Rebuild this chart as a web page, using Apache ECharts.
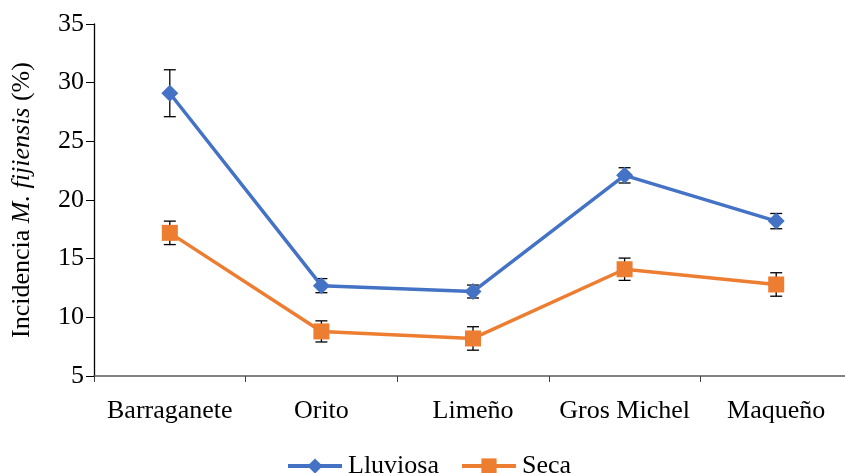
<!DOCTYPE html>
<html>
<head>
<meta charset="utf-8">
<script src="https://cdn.jsdelivr.net/npm/echarts@6/dist/echarts.min.js"></script>
<style>
  html, body { margin: 0; padding: 0; background: #fff; overflow: hidden; }
  #chart { width: 852px; height: 473px; }
</style>
</head>
<body>
<div id="chart"></div>
<script>
// Cultivars and incidence (%) by season, with error half-widths
const categories = ['Barraganete', 'Orito', 'Limeño', 'Gros Michel', 'Maqueño'];
const lluviosa = [29.1, 12.7, 12.2, 22.1, 18.2];
const lluviosaErr = [2.0, 0.6, 0.55, 0.65, 0.65];
const seca = [17.2, 8.8, 8.2, 14.1, 12.8];
const secaErr = [1.0, 0.9, 1.0, 0.95, 1.0];
const yTicks = { min: 5, max: 35, interval: 5 };

const FONT = '"Liberation Serif", "Times New Roman", serif';
const BLUE = '#4472C4';
const ORANGE = '#ED7D31';

function errorData(values, errs) {
  return values.map((v, i) => [i, v - errs[i], v + errs[i]]);
}

function renderErrorBar(params, api) {
  const x = api.value(0);
  const lo = api.coord([x, api.value(1)]);
  const hi = api.coord([x, api.value(2)]);
  const half = 6;
  const style = { stroke: '#000', lineWidth: 1.3 };
  return {
    type: 'group',
    children: [
      { type: 'line', shape: { x1: lo[0], y1: lo[1], x2: hi[0], y2: hi[1] }, style },
      { type: 'line', shape: { x1: hi[0] - half, y1: hi[1], x2: hi[0] + half, y2: hi[1] }, style },
      { type: 'line', shape: { x1: lo[0] - half, y1: lo[1], x2: lo[0] + half, y2: lo[1] }, style }
    ]
  };
}

const chart = echarts.init(document.getElementById('chart'), null, { renderer: 'canvas' });
chart.setOption({
  animation: false,
  backgroundColor: '#fff',
  textStyle: { fontFamily: FONT },
  grid: { left: 94, top: 24, right: 0, height: 352, containLabel: false },
  legend: {
    top: 448,
    left: 281,
    itemWidth: 54,
    itemHeight: 19,
    itemGap: 21,
    textStyle: { fontFamily: FONT, fontSize: 26, color: '#000', padding: [0, 0, 0, 1] },
    data: [
      { name: 'Lluviosa', lineStyle: { width: 4 } },
      { name: 'Seca', lineStyle: { width: 4 } }
    ]
  },
  xAxis: {
    type: 'category',
    data: categories,
    boundaryGap: true,
    axisLine: { lineStyle: { color: '#595959', width: 1.5 } },
    axisTick: { show: true, interval: 0, length: 6, lineStyle: { color: '#404040', width: 1 } },
    axisLabel: { interval: 0, margin: 22, color: '#000', fontFamily: FONT, fontSize: 26 }
  },
  yAxis: {
    type: 'value',
    min: yTicks.min,
    max: yTicks.max,
    interval: yTicks.interval,
    name: '{n|Incidencia }{i|M. fijiensis}{n| (%)}',
    nameLocation: 'middle',
    nameRotate: 90,
    nameGap: 59,
    nameTextStyle: {
      rich: {
        n: { fontFamily: FONT, fontSize: 26, color: '#000' },
        i: { fontFamily: FONT, fontSize: 26, fontStyle: 'italic', color: '#000' }
      }
    },
    splitLine: { show: false },
    axisLine: { show: true, lineStyle: { color: '#000', width: 1.3 } },
    axisTick: { show: true, length: 8, lineStyle: { color: '#000', width: 1 } },
    axisLabel: { margin: 10, color: '#000', fontFamily: FONT, fontSize: 26 }
  },
  series: [
    {
      name: 'Lluviosa',
      type: 'line',
      data: lluviosa,
      color: BLUE,
      lineStyle: { width: 3.5, color: BLUE },
      symbol: 'diamond',
      symbolSize: 17,
      itemStyle: { color: BLUE },
      z: 3
    },
    {
      name: 'Seca',
      type: 'line',
      data: seca,
      color: ORANGE,
      lineStyle: { width: 3.5, color: ORANGE },
      symbol: 'rect',
      symbolSize: 16,
      itemStyle: { color: ORANGE },
      z: 3
    },
    {
      type: 'custom',
      name: 'errLluviosa',
      data: errorData(lluviosa, lluviosaErr),
      renderItem: renderErrorBar,
      z: 2
    },
    {
      type: 'custom',
      name: 'errSeca',
      data: errorData(seca, secaErr),
      renderItem: renderErrorBar,
      z: 2
    }
  ]
});
</script>
</body>
</html>
